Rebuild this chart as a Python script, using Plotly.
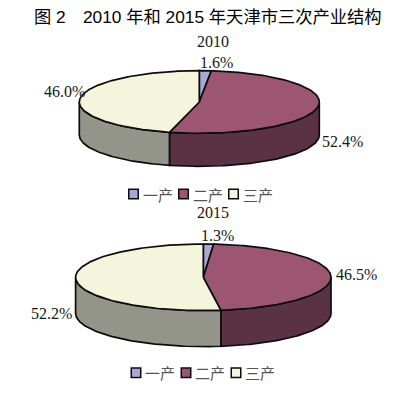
import numpy as np
import plotly.graph_objects as go

categories = ["一产", "二产", "三产"]
values_2010 = [1.6, 52.4, 46.0]
values_2015 = [1.3, 46.5, 52.2]
title_text = "图 2　2010 年和 2015 年天津市三次产业结构"

top_colors = ["#a8a8d4", "#9c5672", "#f5f4dc"]
side_colors = ["#6d6d8a", "#5a3244", "#94958a"]
EDGE = "#0c0c0c"
SERIF = "Liberation Serif"
CJK = "Noto Sans CJK SC"

fig = go.Figure()


def pie3d(values, cx, cy, rx, ry, depth):
    """Flat-projected 3D pie, angles derived from the values."""
    start = 0.0
    for i, v in enumerate(values):
        end = start + v / 100 * 2 * np.pi
        a0, a1 = max(start, np.pi / 2), min(end, 3 * np.pi / 2)
        if a1 > a0:
            t = np.linspace(a0, a1, 80)
            x = cx + rx * np.sin(t)
            y = cy - ry * np.cos(t)
            fig.add_trace(go.Scatter(
                x=np.r_[x, x[::-1], x[0]], y=np.r_[y, y[::-1] + depth, y[0]],
                mode="lines", fill="toself", fillcolor=side_colors[i],
                line=dict(color=EDGE, width=1.7), hoverinfo="skip", showlegend=False))
        start = end
    start = 0.0
    for i, v in enumerate(values):
        end = start + v / 100 * 2 * np.pi
        t = np.linspace(start, end, 160)
        x = cx + rx * np.sin(t)
        y = cy - ry * np.cos(t)
        fig.add_trace(go.Scatter(
            x=np.r_[cx, x, cx], y=np.r_[cy, y, cy],
            mode="lines", fill="toself", fillcolor=top_colors[i],
            line=dict(color=EDGE, width=1.7), name=categories[i],
            hoverinfo="skip", showlegend=False))
        start = end


def legend_row(x0, y):
    for i, c in enumerate(categories):
        x = x0 + i * 50
        fig.add_trace(go.Scatter(
            x=[x], y=[y], mode="markers", name=c, showlegend=False, hoverinfo="skip",
            marker=dict(symbol="square", size=9.5, color=top_colors[i],
                        line=dict(color=EDGE, width=1.5))))
        fig.add_annotation(x=x + 7, y=y, text=c, xanchor="left", showarrow=False,
                           font=dict(family=CJK, size=15, color="#555555"))


def label(x, y, text, size=16):
    fig.add_annotation(x=x, y=y, text=text, showarrow=False,
                       font=dict(family=SERIF, size=size, color="#161616"))


pie3d(values_2010, 199.3, 102, 120, 31.3, 33)
pie3d(values_2015, 203.3, 277.3, 127.7, 33.3, 36)
legend_row(133.5, 194)
legend_row(136, 372.7)

label(213, 41, "2010")
label(216, 62, f"{values_2010[0]:.1f}%")
label(342, 141, f"{values_2010[1]:.1f}%")
label(64, 91, f"{values_2010[2]:.1f}%")
label(213, 212, "2015")
label(217, 235, f"{values_2015[0]:.1f}%")
label(356, 274, f"{values_2015[1]:.1f}%")
label(51, 313, f"{values_2015[2]:.1f}%")

fig.add_annotation(x=208, y=17, text=title_text, showarrow=False,
                   font=dict(family=f"Liberation Sans, {CJK}", size=17.3, color="#000000"))

fig.update_layout(
    width=413, height=395, margin=dict(l=0, r=0, t=0, b=0),
    paper_bgcolor="white", plot_bgcolor="white", showlegend=False,
    xaxis=dict(range=[0, 413], visible=False, fixedrange=True),
    yaxis=dict(range=[395, 0], visible=False, fixedrange=True),
)
fig.write_html("out.html", config=dict(displayModeBar=False),
               post_script="document.body.style.margin='0';")
